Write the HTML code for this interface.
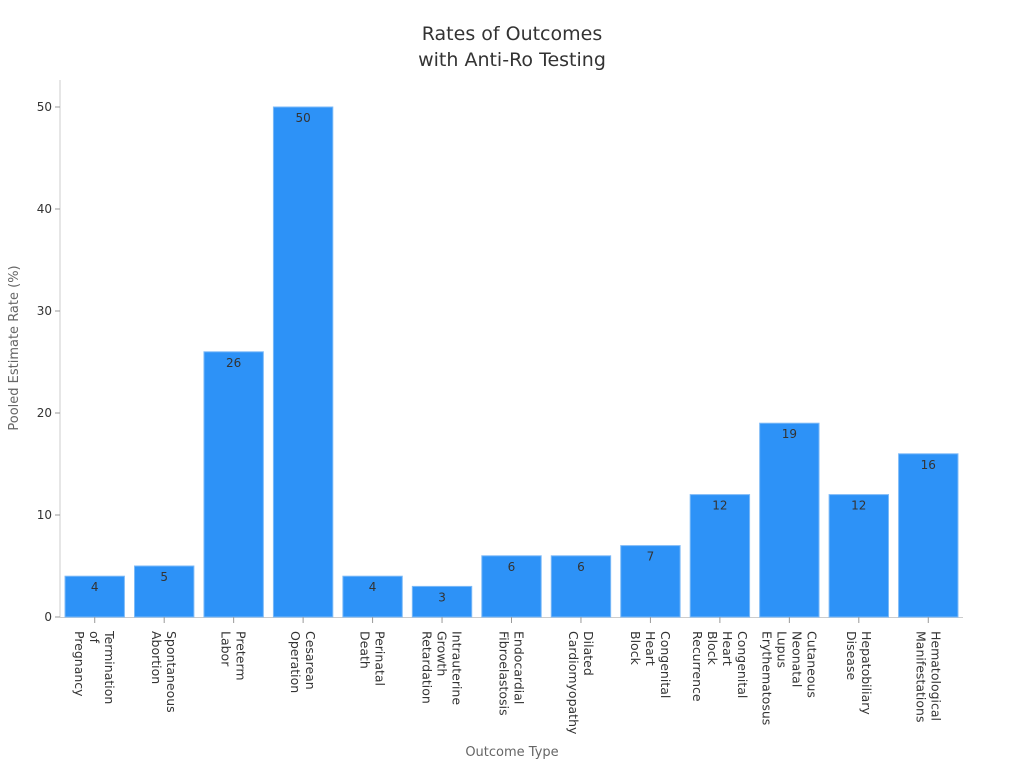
<!DOCTYPE html>
<html><head><meta charset="utf-8"><style>
body{margin:0;background:#fff;font-family:"Liberation Sans","DejaVu Sans",sans-serif}
svg text{font-family:"DejaVu Sans","Liberation Sans",sans-serif}
</style></head><body>
<svg id="chart" width="1024" height="768" xmlns="http://www.w3.org/2000/svg">
<text x="512" y="40" text-anchor="middle" font-size="19" fill="#333">Rates of Outcomes</text>
<text x="512" y="66" text-anchor="middle" font-size="19" fill="#333">with Anti-Ro Testing</text>
<text transform="translate(18,348) rotate(-90)" text-anchor="middle" font-size="13" fill="#666">Pooled Estimate Rate (%)</text>
<text x="512" y="756" text-anchor="middle" font-size="13" fill="#666">Outcome Type</text>
<g id="axes"></g><g id="bars"></g><g id="xlabels"></g>
</svg>
<script>
const categories=[["Termination","of","Pregnancy"],["Spontaneous","Abortion"],["Preterm","Labor"],["Cesarean","Operation"],["Perinatal","Death"],["Intrauterine","Growth","Retardation"],["Endocardial","Fibroelastosis"],["Dilated","Cardiomyopathy"],["Congenital","Heart","Block"],["Congenital","Heart","Block","Recurrence"],["Cutaneous","Neonatal","Lupus","Erythematosus"],["Hepatobiliary","Disease"],["Hematological","Manifestations"]];
// 14th? reference shows 13 bars
const values=[4,5,26,50,4,3,6,6,7,12,19,12,16];
const yTicks=[0,10,20,30,40,50];
const NS="http://www.w3.org/2000/svg";
const X0=60,X1=963,Y0=617,Y50=107;
const band=(X1-X0)/categories.length;
const xc=i=>X0+band*(i+0.5);
const y=v=>Y0-(Y0-Y50)*v/50;
function mk(tag,attrs,parent){const e=document.createElementNS(NS,tag);for(const k in attrs)e.setAttribute(k,attrs[k]);parent.appendChild(e);return e;}
const axes=document.getElementById('axes'),bars=document.getElementById('bars'),xl=document.getElementById('xlabels');
let l=mk('line',{x1:X0,y1:80,x2:X0,y2:Y0,stroke:'#ccc'},axes);


l=mk('line',{x1:X0,y1:Y0+0.5,x2:X1,y2:Y0+0.5,stroke:'#ccc'},axes);


yTicks.forEach(t=>{
 const tk=mk('line',{x1:X0-5,x2:X0,y1:y(t),y2:y(t),stroke:'#999'},axes);
 
 
 const tx=mk('text',{x:X0-8,y:y(t)+4,'text-anchor':'end','font-size':12,fill:'#333'},axes);
 
 
 tx.textContent=t;
});
const bw=band*0.855;
values.forEach((v,i)=>{
 const r=mk('rect',{x:xc(i)-bw/2,y:y(v),width:bw,height:Y0-y(v),fill:'#2d92f7',stroke:'#7dbaf7','stroke-width':1},bars);
 
 
 const t=mk('text',{x:xc(i),y:y(v)+15,'text-anchor':'middle','font-size':12,fill:'#333'},bars);
 
 
 t.textContent=v;
 const tk=mk('line',{x1:xc(i),x2:xc(i),y1:Y0,y2:Y0+6,stroke:'#999'},xl);
 
 
 const lines=categories[i],n=lines.length;
 lines.forEach((s,j)=>{
  const lx=xc(i)+(n-1)*7.5-j*15;
  const tx=mk('text',{transform:`translate(${lx},631) rotate(90)`,'font-size':12.5,fill:'#333','dominant-baseline':'central'},xl);
  
  
  tx.textContent=s;
 });
});
</script>
</body></html>
